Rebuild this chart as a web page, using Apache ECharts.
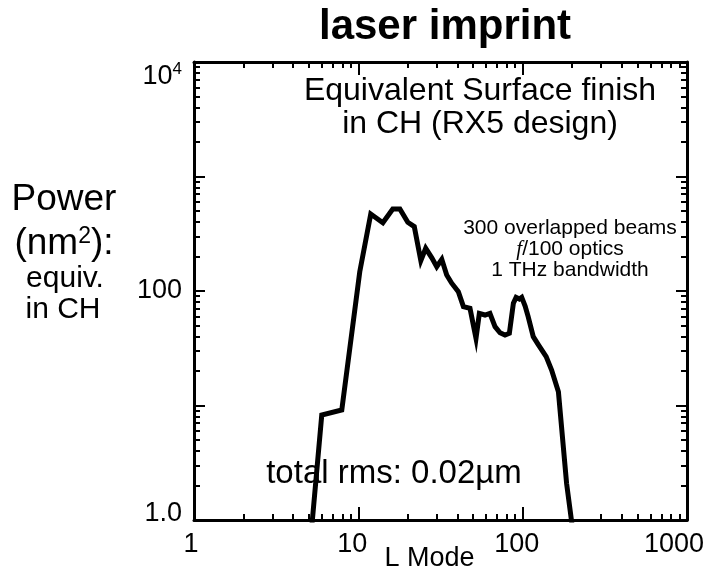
<!DOCTYPE html>
<html>
<head>
<meta charset="utf-8">
<script src="https://cdn.jsdelivr.net/npm/echarts@6/dist/echarts.min.js"></script>
<style>
html,body{margin:0;padding:0;background:#fff;}
#chart{width:715px;height:571px;}
</style>
</head>
<body>
<div id="chart"></div>
<script>
// ---- data ----
const lMode = [5.03, 5.99, 7.93, 10.2, 11.9, 14.1, 16.2, 17.9, 20.0, 21.9, 24.0, 25.7, 28.0, 30.0, 32.2, 34.5, 37.0, 40.6, 43.6, 47.8, 52.0, 54.5, 59.0, 63.2, 67.9, 72.8, 78.1, 83.0, 87.8, 91.2, 95.5, 98.7, 103.5, 108, 116, 125, 139, 150, 165, 185, 211];
const power = [0.5, 8.26, 9.14, 147, 470, 395, 520, 520, 398, 365, 184, 236, 195, 163, 189, 138, 117, 98.6, 73, 70.6, 38.6, 63.8, 61.7, 63.8, 48.8, 43.2, 41.3, 42.7, 78.1, 88, 85, 88, 74, 59.7, 39.9, 33.7, 26.7, 20.4, 13.2, 2.09, 0.5];

const xMajorTicks = [1, 10, 100, 1000];
const xMinorTicks = [2,3,4,5,6,7,8,9,20,30,40,50,60,70,80,90,200,300,400,500,600,700,800,900];
const xTickLabels = [1, 10, 100, 1000];
const yMajorTicks = [1, 10, 100, 1000, 10000];
const yMinorTicks = [2,3,4,5,6,7,8,9,20,30,40,50,60,70,80,90,200,300,400,500,600,700,800,900,2000,3000,4000,5000,6000,7000,8000,9000];
const yTickLabels = [1, 100, 10000];

const FONT = 'Liberation Sans, Arial, Helvetica, sans-serif';

const seriesData = lMode.map((x, i) => [x, power[i]]);

function near(a, b) { return Math.abs(a - b) / b < 1e-6; }

function xLabelFmt(v) {
  if (near(v, 1)) return '{s1|1}';
  if (near(v, 10)) return '{s2|10}';
  if (near(v, 100)) return '{s2|100}';
  if (near(v, 1000)) return '{s3|1000}';
  return '';
}
function yLabelFmt(v) {
  if (near(v, 1)) return '{hi|1.0}';
  if (near(v, 100)) return '{n|100}';
  if (near(v, 10000)) return '{lo|10}{sup|4}';
  return '';
}

function xAx(pos, ticks, len, showLine, labels, extra) {
  return Object.assign({
    type: 'log', logBase: 10, min: 1, max: 1000, position: pos,
    axisLine: { show: showLine, onZero: false, lineStyle: { color: '#000', width: 3 } },
    axisTick: { show: true, inside: true, length: len, customValues: ticks, lineStyle: { color: '#000', width: 2 } },
    axisLabel: labels ? {
      customValues: labels, formatter: xLabelFmt, color: '#000', fontFamily: FONT, fontSize: 27, margin: 11,
      rich: {
        s1: { fontSize: 27, fontFamily: FONT, padding: [0, 6, 0, 0] },
        s2: { fontSize: 27, fontFamily: FONT, padding: [0, 12, 0, 0] },
        s3: { fontSize: 27, fontFamily: FONT, padding: [0, 26, 0, 0] }
      }
    } : { show: false },
    splitLine: { show: false },
    minorTick: { show: false }
  }, extra || {});
}
function yAx(pos, ticks, len, showLine, labels) {
  return {
    type: 'log', logBase: 10, min: 1, max: 10000, position: pos,
    axisLine: { show: showLine, onZero: false, lineStyle: { color: '#000', width: 3 } },
    axisTick: { show: true, inside: true, length: len, customValues: ticks, lineStyle: { color: '#000', width: 2 } },
    axisLabel: labels ? {
      customValues: labels, formatter: yLabelFmt, color: '#000', fontFamily: FONT, fontSize: 27, margin: 12,
      rich: {
        n: { fontSize: 27, fontFamily: FONT, padding: [0, 0, 0, 0] },
        hi: { fontSize: 27, fontFamily: FONT, padding: [0, 0, 12, 0] },
        lo: { fontSize: 27, fontFamily: FONT, padding: [30, 0, 0, 0] },
        sup: { fontSize: 17, fontFamily: FONT, verticalAlign: 'top', padding: [27, 0, 0, 0] }
      }
    } : { show: false },
    splitLine: { show: false }
  };
}

const chart = echarts.init(document.getElementById('chart'), null, { renderer: 'canvas' });
chart.setOption({
  backgroundColor: '#fff',
  animation: false,
  grid: { left: 194, top: 62, width: 493, height: 458, containLabel: false, outerBoundsMode: 'none' },
  xAxis: [
    xAx('bottom', xMajorTicks, 13, true, xTickLabels, {
      name: 'L Mode', nameLocation: 'middle', nameGap: 25, nameMoveOverlap: false,
      nameTextStyle: { color: '#000', fontFamily: FONT, fontSize: 27, padding: [0, 22, 0, 0] }
    }),
    xAx('bottom', xMinorTicks, 6, false, null),
    xAx('top', xMajorTicks, 13, true, null),
    xAx('top', xMinorTicks, 6, false, null)
  ],
  yAxis: [
    yAx('left', yMajorTicks, 11, true, yTickLabels),
    yAx('left', yMinorTicks, 6, false, null),
    yAx('right', yMajorTicks, 11, true, null),
    yAx('right', yMinorTicks, 6, false, null)
  ],
  series: [{
    type: 'line', xAxisIndex: 0, yAxisIndex: 0, data: seriesData,
    symbol: 'none', clip: true,
    lineStyle: { color: '#000', width: 5, join: 'miter' }
  }],
  graphic: [
    { type: 'text', x: 445, y: 27, style: { text: 'laser imprint', font: 'bold 42px ' + FONT, fill: '#000', align: 'center', verticalAlign: 'middle' } },
    { type: 'text', x: 480, y: 91, style: { text: 'Equivalent Surface finish', font: '32px ' + FONT, fill: '#000', align: 'center', verticalAlign: 'middle' } },
    { type: 'text', x: 480, y: 124, style: { text: 'in CH (RX5 design)', font: '32px ' + FONT, fill: '#000', align: 'center', verticalAlign: 'middle' } },
    { type: 'text', x: 570, y: 228, style: { text: '300 overlapped beams', font: '21px ' + FONT, fill: '#000', align: 'center', verticalAlign: 'middle' } },
    { type: 'text', x: 570, y: 249, style: {
        text: '{i|f}/100 optics', font: '21px ' + FONT, fill: '#000', align: 'center', verticalAlign: 'middle',
        rich: { i: { font: 'italic 21px Liberation Serif, Times New Roman, serif', fill: '#000' } } } },
    { type: 'text', x: 570, y: 270, style: { text: '1 THz bandwidth', font: '21px ' + FONT, fill: '#000', align: 'center', verticalAlign: 'middle' } },
    { type: 'text', x: 394, y: 474, style: { text: 'total rms: 0.02\u00b5m', font: '33px ' + FONT, fill: '#000', align: 'center', verticalAlign: 'middle' } },
    { type: 'text', x: 64, y: 200, style: { text: 'Power', font: '37px ' + FONT, fill: '#000', align: 'center', verticalAlign: 'middle' } },
    { type: 'text', x: 64, y: 244, style: {
        text: '(nm{s|2}):', font: '37px ' + FONT, fill: '#000', align: 'center', verticalAlign: 'middle',
        rich: { s: { font: '23px ' + FONT, verticalAlign: 'top', fill: '#000' } } } },
    { type: 'text', x: 65, y: 279, style: { text: 'equiv.', font: '30px ' + FONT, fill: '#000', align: 'center', verticalAlign: 'middle' } },
    { type: 'text', x: 63, y: 310, style: { text: 'in CH', font: '30px ' + FONT, fill: '#000', align: 'center', verticalAlign: 'middle' } }
  ]
});
</script>
</body>
</html>
